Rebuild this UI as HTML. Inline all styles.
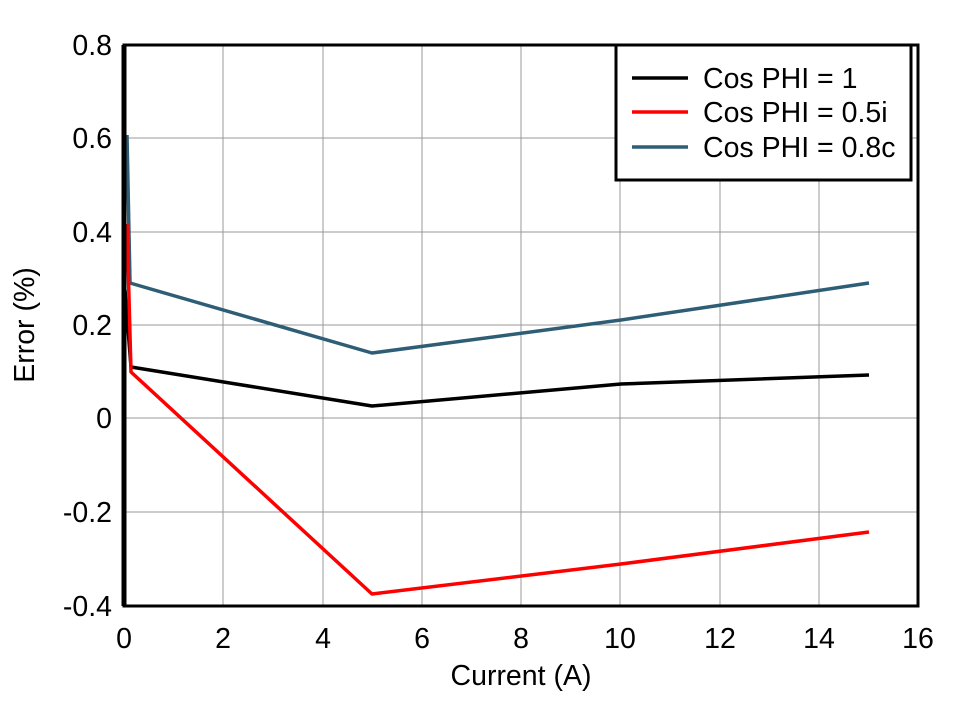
<!DOCTYPE html><html><head><style>body{margin:0;background:#fff}svg{display:block}text{font-family:"Liberation Sans",Arial,sans-serif}</style></head><body>
<svg width="958" height="701" viewBox="0 0 958 701">
<rect width="958" height="701" fill="#fff"/>
<g stroke="#999" stroke-width="1">
<line x1="223" y1="45" x2="223" y2="606"/><line x1="323" y1="45" x2="323" y2="606"/><line x1="422" y1="45" x2="422" y2="606"/><line x1="521" y1="45" x2="521" y2="606"/><line x1="620" y1="45" x2="620" y2="606"/><line x1="720" y1="45" x2="720" y2="606"/><line x1="819" y1="45" x2="819" y2="606"/>
<line x1="124" y1="138" x2="918" y2="138"/><line x1="124" y1="232" x2="918" y2="232"/><line x1="124" y1="325" x2="918" y2="325"/><line x1="124" y1="418" x2="918" y2="418"/><line x1="124" y1="512" x2="918" y2="512"/>
</g>
<g fill="none" stroke-width="3.5" stroke-linejoin="round">
<polyline stroke="#000" points="125,290 131,367 372,406 621,384 869,375"/>
<polyline stroke="#2e5d76" points="127,135 130,283 372,353 621,320 869,283"/>
<polyline stroke="#f00" points="127,224 131,372 372,594 621,564 869,532"/>
</g>
<rect x="124" y="45" width="794" height="561" fill="none" stroke="#000" stroke-width="3"/>
<line x1="124" y1="45" x2="124" y2="606" stroke="#000" stroke-width="5"/>
<g font-size="28.5" text-anchor="end">
<text x="112" y="55">0.8</text><text x="112" y="148">0.6</text><text x="112" y="242">0.4</text><text x="112" y="335">0.2</text><text x="112" y="428">0</text><text x="112" y="522">-0.2</text><text x="112" y="616">-0.4</text>
</g>
<g font-size="28.5" text-anchor="middle">
<text x="124" y="648">0</text><text x="223" y="648">2</text><text x="323" y="648">4</text><text x="422" y="648">6</text><text x="521" y="648">8</text><text x="620" y="648">10</text><text x="720" y="648">12</text><text x="819" y="648">14</text><text x="918" y="648">16</text>
<text x="521" y="685">Current (A)</text>
<text transform="translate(34,325) rotate(-90)">Error (%)</text>
</g>
<rect x="616" y="45" width="295" height="135" fill="#fff" stroke="#000" stroke-width="3"/>
<g stroke-width="3.5"><line x1="632" y1="78" x2="688" y2="78" stroke="#000"/><line x1="632" y1="112" x2="688" y2="112" stroke="#f00"/><line x1="632" y1="147" x2="688" y2="147" stroke="#2e5d76"/></g>
<g font-size="28.5"><text x="703" y="88">Cos PHI = 1</text><text x="703" y="122">Cos PHI = 0.5i</text><text x="703" y="157">Cos PHI = 0.8c</text></g>
</svg></body></html>
